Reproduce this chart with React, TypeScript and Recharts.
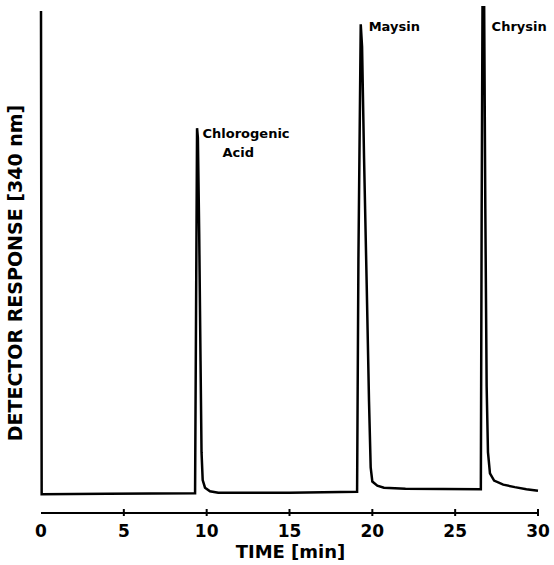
import React from 'react';
import { LineChart, Line, XAxis, YAxis, ReferenceDot, Label } from 'recharts';

// chromatogram trace
const timeMin = [
  0, 0.04, 4.0, 9.3, 9.36, 9.42, 9.47, 9.55, 9.63, 9.69, 9.76, 9.9, 10.2, 10.7, 15.0,
  19.08, 19.16, 19.3, 19.38, 19.5, 19.66, 19.8, 19.9, 20.0, 20.3, 20.7, 22.0,
  26.55, 26.6, 26.65, 26.75, 26.82, 26.9, 26.98, 27.1, 27.35, 27.9, 28.6, 29.3, 30.0,
];
const response = [
  99, 3.7, 3.8, 3.9, 40, 75.9, 74, 55, 30, 12, 6.5, 5.0, 4.3, 4.0, 4.0,
  4.2, 50, 96.4, 92, 70, 45, 22, 9, 6.2, 5.4, 5.0, 4.8,
  4.7, 60, 100, 100, 60, 25, 12, 7.8, 6.4, 5.6, 5.1, 4.7, 4.4,
];

const timeTicks = [0, 5, 10, 15, 20, 25, 30];

// peak annotations (text anchor in data units)
const peakNames = [['Chlorogenic', 'Acid'], ['Maysin'], ['Chrysin']];
const peakLabelTime = [9.75, 19.78, 27.2];
const peakLabelResp = [74, 95.1, 95.1];

const data = timeMin.map((t, i) => ({ t, v: response[i] }));
const peaks = peakNames.map((lines, i) => ({ lines, t: peakLabelTime[i], v: peakLabelResp[i] }));

const FONT = '"DejaVu Sans", sans-serif';

function TimeTick(props: any) {
  const { x, y, payload } = props;
  return (
    <g>
      {payload.value !== 0 && <line x1={x} x2={x} y1={y - 4} y2={y + 3} stroke="#000" strokeWidth={2} />}
      <text x={x} y={y + 24} textAnchor="middle" fontFamily={FONT} fontWeight="bold" fontSize={17} fill="#000">
        {payload.value}
      </text>
    </g>
  );
}

function PeakText({ cx, cy, lines }: any) {
  return (
    <text x={cx} y={cy} fontFamily={FONT} fontWeight="bold" fontSize={13} fill="#000">
      {lines.map((s: string, i: number) => (
        <tspan key={s} x={cx + (i === 0 ? 0 : 20)} dy={i === 0 ? 0 : 19}>{s}</tspan>
      ))}
    </text>
  );
}

export default function App() {
  return (
    <div style={{ position: 'absolute', left: 0, top: 0, width: 554, height: 565, background: '#fff' }}>
      <LineChart width={554} height={565} data={data} margin={{ top: 6, right: 16, left: 41, bottom: 0 }}>
        <XAxis
          dataKey="t"
          type="number"
          domain={[0, 30]}
          ticks={timeTicks}
          height={52}
          tickSize={0}
          tickMargin={0}
          tickLine={false}
          axisLine={{ stroke: '#000', strokeWidth: 2 }}
          tick={<TimeTick />}
        >
          <Label
            content={({ viewBox }: any) => (
              <text
                x={viewBox.x + viewBox.width / 2 + 1}
                y={viewBox.y + 45}
                textAnchor="middle"
                fontFamily={FONT}
                fontWeight="bold"
                fontSize={18}
                fill="#000"
              >
                TIME [min]
              </text>
            )}
          />
        </XAxis>
        <YAxis
          type="number"
          domain={[0, 100]}
          allowDataOverflow
          width={0}
          tick={false}
          tickLine={false}
          axisLine={{ stroke: '#000', strokeWidth: 2 }}
        />
        <Line
          type="linear"
          dataKey="v"
          stroke="#000"
          strokeWidth={2.5}
          dot={false}
          isAnimationActive={false}
        />
        {peaks.map((p) => (
          <ReferenceDot
            key={p.lines[0]}
            x={p.t}
            y={p.v}
            r={0}
            shape={(sp: any) => <PeakText cx={sp.cx} cy={sp.cy} lines={p.lines} />}
          />
        ))}
      </LineChart>
      <svg width={40} height={565} style={{ position: 'absolute', left: 0, top: 0 }}>
        <text
          x={22}
          y={273}
          transform="rotate(-90 22 273)"
          textAnchor="middle"
          fontFamily={FONT}
          fontWeight="bold"
          fontSize={19}
          fill="#000"
        >
          DETECTOR RESPONSE [340 nm]
        </text>
      </svg>
    </div>
  );
}
